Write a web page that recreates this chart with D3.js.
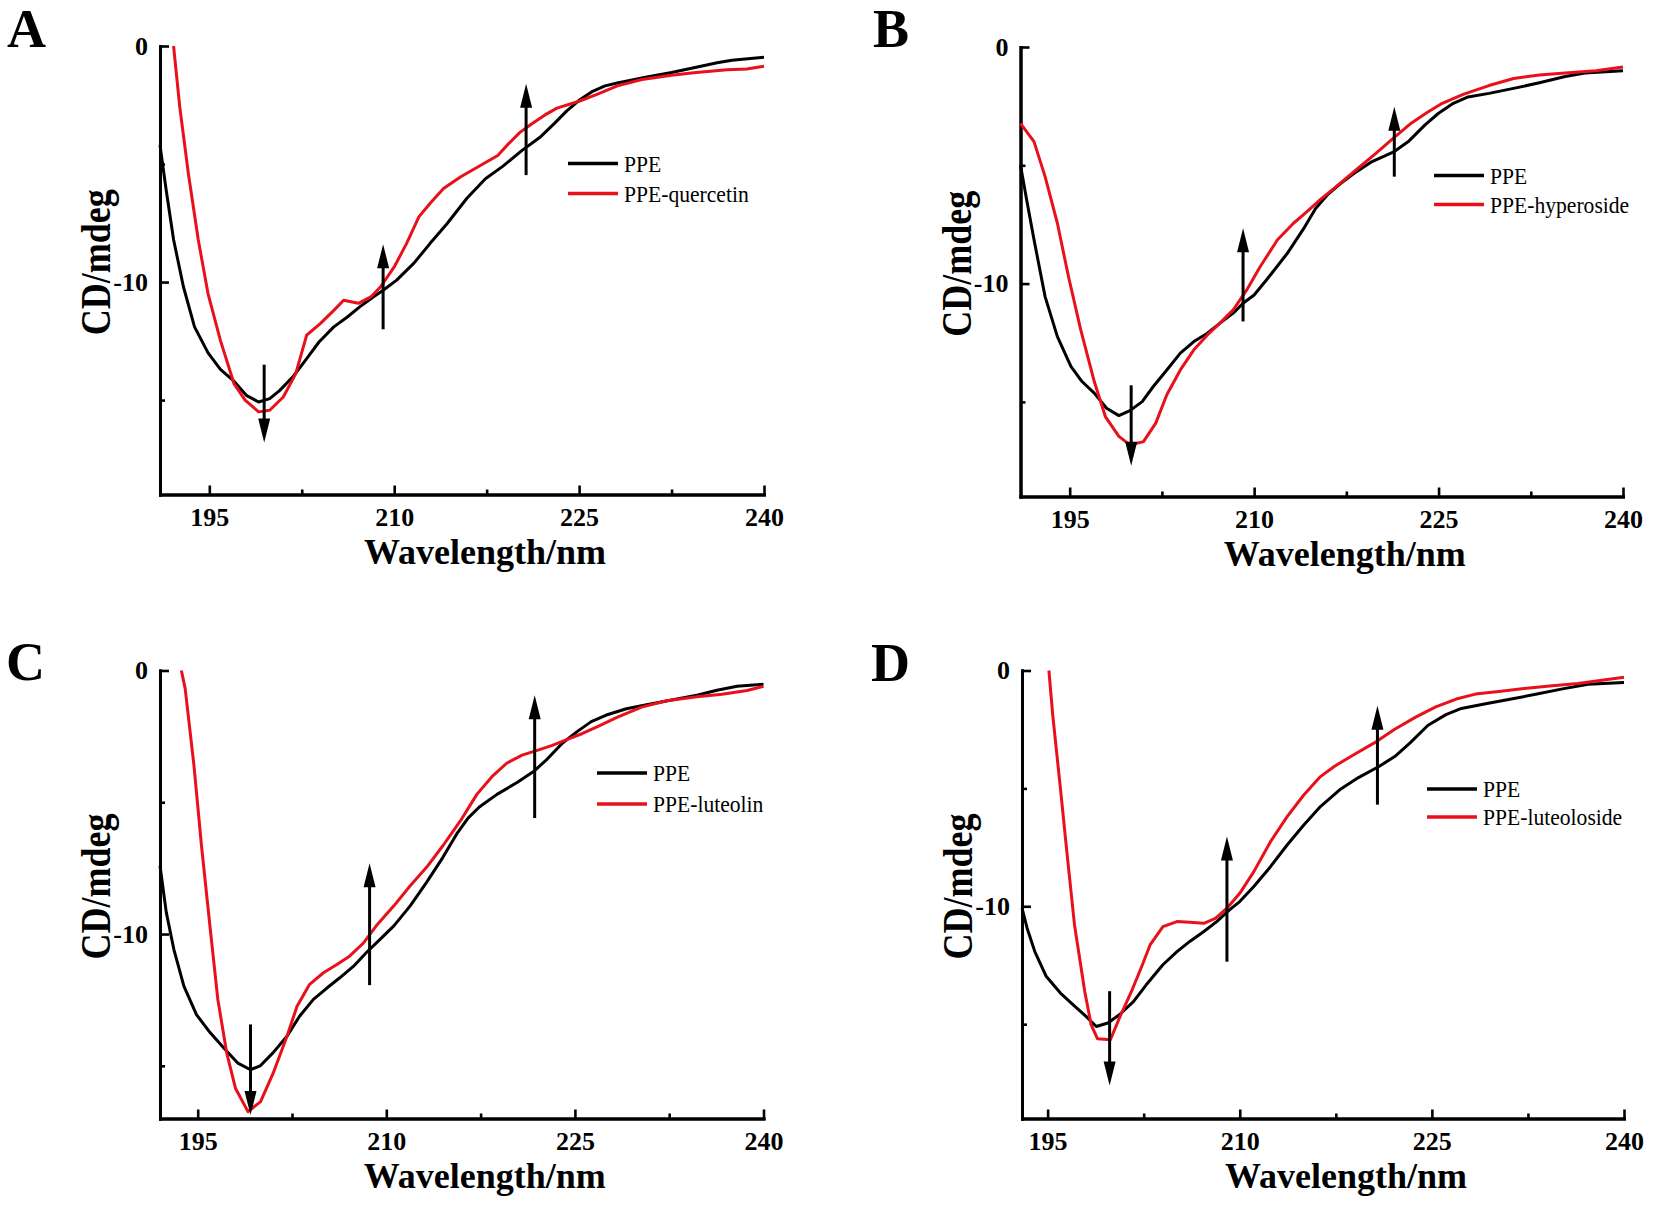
<!DOCTYPE html>
<html>
<head>
<meta charset="utf-8">
<script src="https://cdn.jsdelivr.net/npm/d3@7"></script>
<style>
  body { margin: 0; background: #fff; }
  svg { display: block; }
</style>
</head>
<body>
<svg id="chart" width="1654" height="1205"></svg>
<script>
// ---------------- DATA ----------------
const xTicks = [195, 210, 225, 240];
const xMinorTicks = [202.5, 217.5, 232.5];
const yTicks = [0, -10];
const yMinorTicks = [-5, -15];
const panelLetters = ["A", "B", "C", "D"];
const controlLabel = "PPE";
const complexLabels = ["PPE-quercetin", "PPE-hyperoside", "PPE-luteolin", "PPE-luteoloside"];
const xTitle = "Wavelength/nm";
const yTitle = "CD/mdeg";

// Panel A  [wavelength nm, CD mdeg]
const ppeA = [[191,-4.2],[191.5,-6.1],[192.1,-8.2],[192.9,-10.2],[193.8,-11.9],[194.9,-13.0],[195.9,-13.7],[197.0,-14.2],[198.0,-14.8],[199.0,-15.08],[199.9,-14.94],[200.7,-14.6],[201.8,-14.0],[202.9,-13.24],[203.9,-12.54],[205.1,-11.9],[206.2,-11.48],[207.2,-11.05],[208.3,-10.63],[209.1,-10.35],[210.2,-9.92],[211.6,-9.2],[212.9,-8.37],[214.3,-7.52],[215.9,-6.45],[217.4,-5.62],[218.8,-5.1],[220.4,-4.41],[221.8,-3.88],[223.0,-3.28],[224.0,-2.75],[225.0,-2.3],[226.1,-1.92],[227.1,-1.69],[228.1,-1.57],[230.5,-1.31],[232.5,-1.12],[234.5,-0.9],[236.2,-0.71],[237.4,-0.6],[240,-0.48]];
const quercetinA = [[192.1,0],[192.6,-2.57],[193.3,-5.4],[194.1,-8.2],[194.9,-10.5],[195.9,-12.47],[197.0,-14.3],[197.9,-15.0],[199.0,-15.5],[199.9,-15.43],[201.0,-14.87],[202.0,-13.9],[202.9,-12.25],[204.0,-11.76],[205.1,-11.2],[205.9,-10.77],[207.1,-10.9],[208.1,-10.63],[208.9,-10.2],[210.0,-9.36],[211.0,-8.37],[212.0,-7.24],[212.9,-6.67],[214.0,-6.04],[215.4,-5.54],[217.2,-5.0],[218.4,-4.64],[219.2,-4.18],[220.2,-3.66],[221.2,-3.28],[222.2,-2.93],[223.2,-2.63],[225.0,-2.34],[226.5,-2.04],[228.1,-1.69],[230.1,-1.42],[232.5,-1.24],[234.5,-1.12],[237.0,-1.01],[238.6,-0.97],[240,-0.86]];

// Panel B
const ppeB = [[191,-5.0],[191.5,-6.46],[192.1,-8.15],[193.0,-10.55],[194.0,-12.24],[195.1,-13.5],[196.0,-14.14],[197.0,-14.63],[198.0,-15.27],[199.0,-15.58],[199.9,-15.37],[200.9,-14.99],[201.8,-14.35],[202.9,-13.65],[204.0,-12.94],[205.1,-12.45],[206.2,-12.1],[207.2,-11.68],[208.3,-11.25],[209.1,-10.83],[210.0,-10.48],[211.0,-9.85],[212.7,-8.72],[214.0,-7.7],[215.0,-6.83],[216.0,-6.23],[217.0,-5.78],[218.3,-5.28],[219.5,-4.87],[221.4,-4.42],[222.6,-3.97],[223.9,-3.29],[225.0,-2.8],[226.2,-2.38],[227.4,-2.11],[229.1,-1.96],[231.1,-1.75],[233.2,-1.51],[235.3,-1.25],[236.9,-1.1],[240,-1.0]];
const hyperosideB = [[191,-3.23],[192.1,-4.0],[193.0,-5.48],[194.0,-7.45],[194.9,-9.7],[195.9,-11.96],[197.0,-14.14],[197.9,-15.62],[199.0,-16.46],[199.9,-16.82],[201.0,-16.68],[202.0,-15.9],[202.9,-14.7],[204.0,-13.65],[205.1,-12.8],[206.2,-12.17],[207.2,-11.68],[208.3,-11.11],[209.4,-10.27],[210.5,-9.28],[211.9,-8.15],[213.2,-7.45],[214.3,-6.96],[215.4,-6.44],[216.6,-5.93],[218.7,-5.02],[219.9,-4.5],[221.4,-3.82],[222.8,-3.21],[224.1,-2.76],[225.3,-2.38],[227.0,-2.0],[229.1,-1.63],[231.1,-1.33],[233.2,-1.18],[235.3,-1.1],[237.8,-1.0],[240,-0.85]];

// Panel C
const ppeC = [[192,-7.41],[192.5,-9.18],[193.1,-10.58],[193.9,-11.98],[194.9,-13.06],[196.0,-13.75],[197.2,-14.39],[198.2,-14.9],[199.2,-15.15],[200.0,-14.99],[201.0,-14.5],[202.1,-13.88],[203.1,-13.12],[204.2,-12.48],[205.3,-12.04],[206.3,-11.66],[207.4,-11.22],[208.4,-10.71],[209.5,-10.2],[210.6,-9.69],[211.9,-8.93],[213.2,-8.04],[214.5,-7.09],[215.6,-6.2],[216.5,-5.6],[217.4,-5.18],[218.8,-4.7],[220.4,-4.25],[221.8,-3.8],[222.8,-3.36],[224.0,-2.76],[225.2,-2.31],[226.3,-1.94],[227.5,-1.69],[229.1,-1.45],[230.7,-1.3],[232.7,-1.12],[234.7,-0.94],[236.3,-0.75],[237.9,-0.6],[240,-0.52]];
const luteolinC = [[193.7,0],[194.0,-0.68],[194.7,-3.6],[195.3,-6.65],[196.0,-9.82],[196.6,-12.48],[197.3,-14.5],[198.0,-15.85],[199.0,-16.74],[200.0,-16.36],[201.0,-15.28],[202.1,-13.88],[202.9,-12.74],[203.9,-11.91],[205.0,-11.47],[206.1,-11.15],[207.1,-10.83],[208.2,-10.33],[209.2,-9.69],[210.6,-8.93],[211.9,-8.17],[213.2,-7.47],[214.5,-6.65],[215.9,-5.7],[217.2,-4.7],[218.4,-4.03],[219.6,-3.51],[220.8,-3.21],[222.0,-3.03],[223.2,-2.84],[224.4,-2.61],[225.6,-2.39],[226.8,-2.13],[228.3,-1.79],[230.3,-1.39],[232.3,-1.15],[234.7,-1.0],[236.7,-0.9],[238.7,-0.76],[240,-0.6]];

// Panel D
const ppeD = [[193.0,-10.08],[193.4,-10.93],[194.0,-11.92],[194.9,-12.98],[196.0,-13.68],[197.0,-14.18],[198.0,-14.67],[198.8,-15.1],[199.7,-14.95],[200.6,-14.6],[201.7,-14.04],[202.7,-13.33],[204.0,-12.48],[205.1,-11.92],[206.1,-11.49],[207.2,-11.07],[208.2,-10.65],[209.2,-10.15],[210.0,-9.8],[211.1,-9.16],[212.4,-8.32],[213.7,-7.4],[215.0,-6.55],[216.3,-5.77],[217.8,-5.06],[219.3,-4.53],[220.9,-4.06],[222.1,-3.65],[223.3,-3.07],[224.7,-2.32],[226.1,-1.87],[227.3,-1.61],[229.2,-1.41],[231.2,-1.21],[233.2,-1.0],[235.2,-0.78],[237.2,-0.58],[240,-0.51]];
const luteolosideD = [[195.1,0],[195.4,-1.89],[196.0,-5.0],[196.5,-7.68],[197.1,-10.79],[197.9,-13.61],[198.4,-15.03],[198.9,-15.62],[199.9,-15.66],[200.6,-14.74],[201.6,-13.54],[202.4,-12.48],[203.0,-11.64],[204.0,-10.86],[205.1,-10.65],[206.1,-10.68],[207.2,-10.72],[208.1,-10.51],[209.0,-10.08],[210.0,-9.45],[211.1,-8.53],[212.4,-7.26],[213.7,-6.2],[215.0,-5.28],[216.3,-4.5],[217.4,-4.06],[218.9,-3.57],[220.5,-3.07],[222.1,-2.49],[223.7,-1.99],[225.3,-1.54],[226.9,-1.21],[228.4,-1.0],[230.4,-0.88],[232.4,-0.75],[234.4,-0.65],[236.4,-0.55],[240,-0.29]];

// Arrows: [wavelength, CD at tail, CD at tip]
const arrowsA = [[199.45,-13.5,-16.8],[209.1,-12.0,-8.4],[220.7,-5.47,-1.6]];
const arrowsB = [[200.0,-14.3,-17.7],[209.1,-11.6,-7.66],[221.4,-5.48,-2.53]];
const arrowsC = [[199.2,-13.43,-16.87],[208.67,-11.94,-7.31],[221.8,-5.6,-0.94]];
const arrowsD = [[199.84,-13.6,-17.6],[209.0,-12.35,-7.04],[220.75,-5.69,-1.49]];

// ---------------- LAYOUT ----------------
const RED = "#e8101a";
const SERIF = "'Liberation Serif','Times New Roman',Times,serif";

const panels = [
  { letter: panelLetters[0], L: 160, R: 764, T: 46, B: 494.5, xd: [191, 240], yd: [-19, 0],
    black: ppeA, red: quercetinA, label: complexLabels[0], arrows: arrowsA,
    leg: { x: 568, y: 163.5, gap: 30 }, lx: 7, ly: 47 },
  { letter: panelLetters[1], L: 1020.5, R: 1623, T: 47, B: 496.5, xd: [191, 240], yd: [-19, 0],
    black: ppeB, red: hyperosideB, label: complexLabels[1], arrows: arrowsB,
    leg: { x: 1434, y: 175.5, gap: 29 }, lx: 873, ly: 47 },
  { letter: panelLetters[2], L: 160, R: 763.5, T: 670.5, B: 1118.5, xd: [192, 240], yd: [-17, 0],
    black: ppeC, red: luteolinC, label: complexLabels[2], arrows: arrowsC,
    leg: { x: 597, y: 773, gap: 31 }, lx: 6, ly: 680 },
  { letter: panelLetters[3], L: 1022, R: 1624, T: 670.5, B: 1118.5, xd: [193, 240], yd: [-19, 0],
    black: ppeD, red: luteolosideD, label: complexLabels[3], arrows: arrowsD,
    leg: { x: 1427, y: 789, gap: 28 }, lx: 871, ly: 681 }
];

const fmt = d => (d < 0 ? "-" : "") + Math.abs(d);

const svg = d3.select("#chart");
svg.append("rect").attr("width", 1654).attr("height", 1205).attr("fill", "#fff");

panels.forEach(p => {
  const x = d3.scaleLinear().domain(p.xd).range([p.L, p.R]);
  const y = d3.scaleLinear().domain(p.yd).range([p.B, p.T]);
  const g = svg.append("g");

  // panel letter
  g.append("text")
    .attr("x", p.lx).attr("y", p.ly)
    .attr("font-family", SERIF).attr("font-weight", "bold").attr("font-size", 54)
    .text(p.letter);

  // axes
  const xAxis = d3.axisBottom(x).tickValues(xTicks).tickSizeInner(-9).tickSizeOuter(0).tickPadding(13.5).tickFormat(fmt);
  const xMinor = d3.axisBottom(x).tickValues(xMinorTicks).tickSizeInner(-5).tickSizeOuter(0).tickFormat("");
  const yAxis = d3.axisLeft(y).tickValues(yTicks).tickSizeInner(-9).tickSizeOuter(0).tickPadding(12).tickFormat(fmt);
  const yMinor = d3.axisLeft(y).tickValues(yMinorTicks).tickSizeInner(-5).tickSizeOuter(0).tickFormat("");

  const styleAxis = sel => {
    sel.selectAll("path.domain").attr("stroke", "#000").attr("stroke-width", 3).attr("stroke-linecap", "square");
    sel.selectAll(".tick line").attr("stroke", "#000").attr("stroke-width", 2.6);
    sel.selectAll(".tick text").attr("font-family", SERIF).attr("font-weight", "bold")
      .attr("font-size", 26).attr("fill", "#000");
  };
  const gxm = g.append("g").attr("transform", `translate(0,${p.B})`).call(xMinor).call(styleAxis);
  const gym = g.append("g").attr("transform", `translate(${p.L},0)`).call(yMinor).call(styleAxis);
  gxm.selectAll(".tick text").remove();
  gym.selectAll(".tick text").remove();
  g.append("g").attr("transform", `translate(0,${p.B})`).call(xAxis).call(styleAxis);
  g.append("g").attr("transform", `translate(${p.L},0)`).call(yAxis).call(styleAxis);
  g.selectAll(".domain").raise();

  // axis titles
  g.append("text")
    .attr("x", (p.L + p.R) / 2 + 23).attr("y", p.B + 69)
    .attr("text-anchor", "middle")
    .attr("font-family", SERIF).attr("font-weight", "bold").attr("font-size", 36)
    .text(xTitle);
  g.append("text")
    .attr("transform", `translate(${p.L - 50},${(p.T + p.B) / 2 - 8}) rotate(-90) scale(1,1.2)`)
    .attr("text-anchor", "middle")
    .attr("font-family", SERIF).attr("font-weight", "bold").attr("font-size", 36)
    .text(yTitle);

  // curves
  const line = d3.line().x(d => x(d[0])).y(d => y(d[1])).curve(d3.curveLinear);
  g.append("path").datum(p.black).attr("d", line)
    .attr("fill", "none").attr("stroke", "#000").attr("stroke-width", 3).attr("stroke-linejoin", "round");
  g.append("path").datum(p.red).attr("d", line)
    .attr("fill", "none").attr("stroke", RED).attr("stroke-width", 3).attr("stroke-linejoin", "round");

  // arrows
  const headL = 24, headW = 6;
  p.arrows.forEach(a => {
    const ax = x(a[0]), y0 = y(a[1]), y1 = y(a[2]);
    const dir = Math.sign(y1 - y0);
    g.append("line")
      .attr("x1", ax).attr("x2", ax).attr("y1", y0).attr("y2", y1 - dir * (headL - 2))
      .attr("stroke", "#000").attr("stroke-width", 3);
    g.append("path")
      .attr("d", `M${ax},${y1} L${ax - headW},${y1 - dir * headL} L${ax + headW},${y1 - dir * headL} Z`)
      .attr("fill", "#000");
  });

  // legend
  const legItems = [{ label: controlLabel, color: "#000" }, { label: p.label, color: RED }];
  legItems.forEach((it, i) => {
    const ly = p.leg.y + i * p.leg.gap;
    g.append("line")
      .attr("x1", p.leg.x).attr("x2", p.leg.x + 50).attr("y1", ly).attr("y2", ly)
      .attr("stroke", it.color).attr("stroke-width", 3.4);
    g.append("text")
      .attr("transform", `translate(${p.leg.x + 56},${ly}) scale(0.9,1)`)
      .attr("dy", "0.34em")
      .attr("font-family", SERIF).attr("font-size", 24).attr("fill", "#000")
      .text(it.label);
  });
});
</script>
</body>
</html>
